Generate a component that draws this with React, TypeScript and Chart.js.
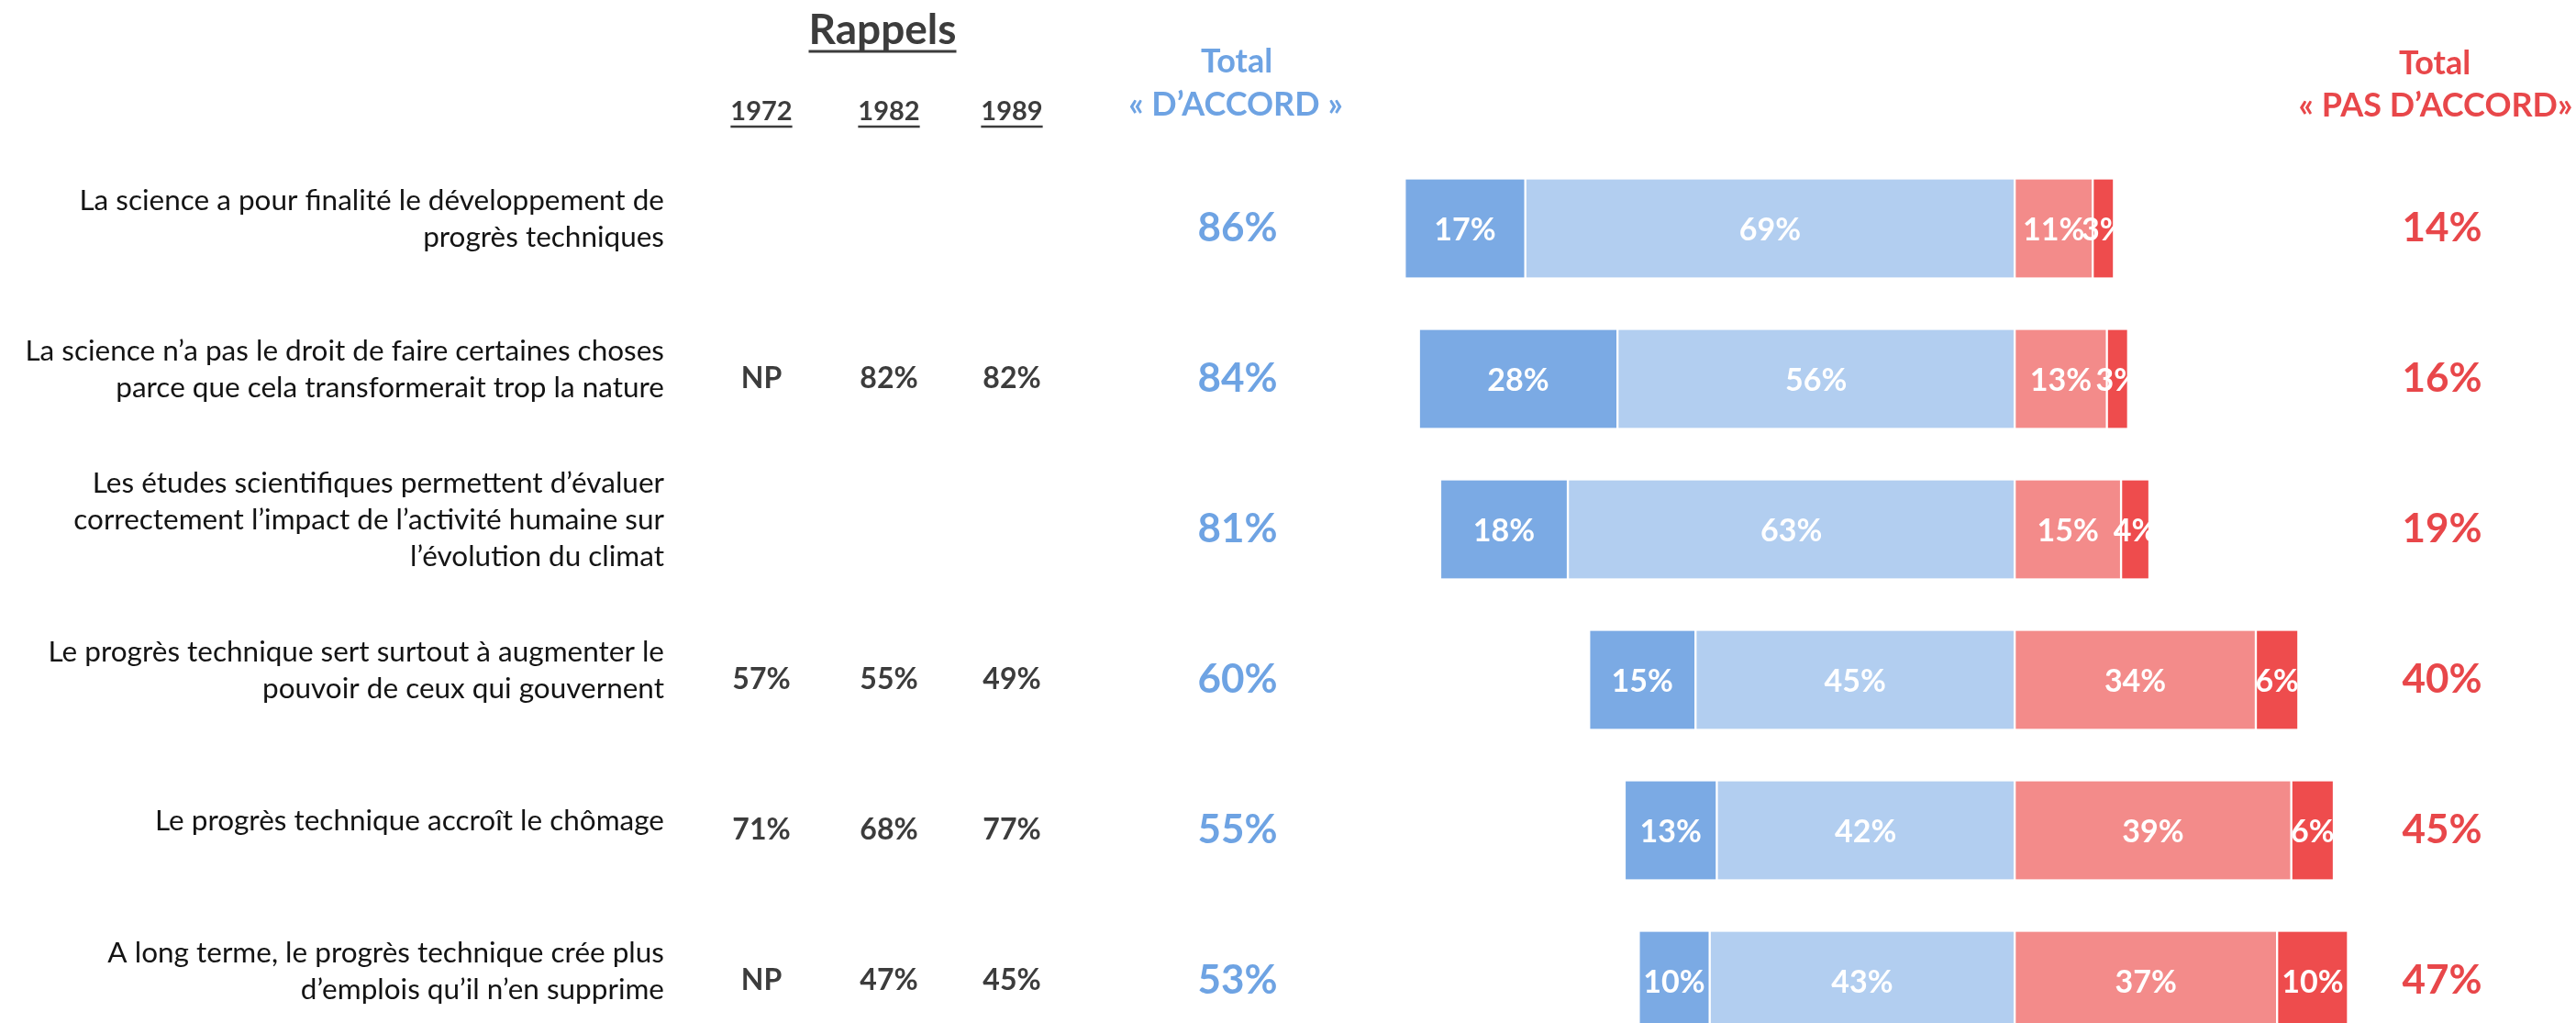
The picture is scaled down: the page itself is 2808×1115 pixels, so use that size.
import React, { useEffect, useRef } from "react";
import { Chart, registerables } from "chart.js";

Chart.register(...registerables);

// ---------- DATA ----------
const statements: string[][] = [
  ["La science a pour finalité le développement de", "progrès techniques"],
  ["La science n’a pas le droit de faire certaines choses", "parce que cela transformerait trop la nature"],
  ["Les études scientifiques permettent d’évaluer", "correctement l’impact de l’activité humaine sur", "l’évolution du climat"],
  ["Le progrès technique sert surtout à augmenter le", "pouvoir de ceux qui gouvernent"],
  ["Le progrès technique accroît le chômage"],
  ["A long terme, le progrès technique crée plus", "d’emplois qu’il n’en supprime"],
];
const toutAFaitDAccord = [17, 28, 18, 15, 13, 10];
const plutotDAccord = [69, 56, 63, 45, 42, 43];
const plutotPasDAccord = [11, 13, 15, 34, 39, 37];
const pasDuToutDAccord = [3, 3, 4, 6, 6, 10];
const totalDAccord = [86, 84, 81, 60, 55, 53];
const totalPasDAccord = [14, 16, 19, 40, 45, 47];
const rappelYears = ["1972", "1982", "1989"];
const rappel1972 = ["", "NP", "", "57%", "71%", "NP"];
const rappel1982 = ["", "82%", "", "55%", "68%", "47%"];
const rappel1989 = ["", "82%", "", "49%", "77%", "45%"];

// ---------- STYLE ----------
const FONT = "Lato, 'Open Sans', sans-serif";
const BLUE_DARK = "#7BAAE4";
const BLUE_LIGHT = "#B2CEF0";
const RED_LIGHT = "#F38B8A";
const RED_DARK = "#EE4C4D";
const BLUE_TEXT = "#6EA3E3";
const RED_TEXT = "#E8474A";
const GREY_TEXT = "#3C3C3C";

const rappelX = [830, 969, 1103];
const LABEL_RIGHT = 724;
const BLUE_X = 1349;
const RED_X = 2662;

const textPlugin = {
  id: "textPlugin",
  afterDatasetsDraw(chart: any) {
    const ctx = chart.ctx;
    ctx.save();
    ctx.fillStyle = "#ffffff";
    ctx.font = `bold 34px ${FONT}`;
    ctx.textAlign = "center";
    ctx.textBaseline = "middle";
    chart.data.datasets.forEach((ds: any, di: number) => {
      const meta = chart.getDatasetMeta(di);
      meta.data.forEach((el: any, i: number) => {
        const v = ds.data[i];
        const p = el.getProps(["x", "y", "base"], true);
        ctx.fillText(`${Math.abs(v)}%`, (p.x + p.base) / 2, p.y + 2);
      });
    });
    ctx.restore();
  },
  afterDraw(chart: any) {
    const ctx = chart.ctx;
    const yScale = chart.scales.y;
    ctx.save();
    ctx.textAlign = "center";

    const underline = (text: string, cx: number, y: number, lw: number) => {
      const w = ctx.measureText(text).width;
      ctx.beginPath();
      ctx.lineWidth = lw;
      ctx.strokeStyle = ctx.fillStyle;
      ctx.moveTo(cx - w / 2, y);
      ctx.lineTo(cx + w / 2, y);
      ctx.stroke();
    };

    // Rappels header
    ctx.fillStyle = GREY_TEXT;
    ctx.textBaseline = "alphabetic";
    ctx.font = `bold 46px ${FONT}`;
    ctx.fillText("Rappels", 962, 48);
    underline("Rappels", 962, 56, 3);

    ctx.font = `bold 29px ${FONT}`;
    rappelYears.forEach((yr, k) => {
      ctx.fillText(yr, rappelX[k], 131);
      underline(yr, rappelX[k], 138, 2.5);
    });

    // Totals headers
    ctx.textBaseline = "middle";
    ctx.font = `bold 36px ${FONT}`;
    ctx.fillStyle = BLUE_TEXT;
    ctx.fillText("Total", 1348, 67);
    ctx.fillText("« D’ACCORD »", 1347, 114);
    ctx.fillStyle = RED_TEXT;
    ctx.fillText("Total", 2654, 69);
    ctx.fillText("« PAS D’ACCORD»", 2655, 115);

    const cols = [rappel1972, rappel1982, rappel1989];
    statements.forEach((lines, i) => {
      const cy = yScale.getPixelForValue(i);
      // statement label
      ctx.fillStyle = "#141414";
      ctx.font = `31.5px ${FONT}`;
      ctx.textAlign = "right";
      const lh = 40;
      const start = cy - 10 - ((lines.length - 1) * lh) / 2;
      lines.forEach((ln, j) => ctx.fillText(ln, LABEL_RIGHT, start + j * lh));

      ctx.textAlign = "center";
      ctx.fillStyle = GREY_TEXT;
      ctx.font = `bold 32px ${FONT}`;
      cols.forEach((col, k) => {
        if (col[i]) ctx.fillText(col[i], rappelX[k], cy);
      });

      ctx.font = `bold 44px ${FONT}`;
      ctx.fillStyle = BLUE_TEXT;
      ctx.fillText(`${totalDAccord[i]}%`, BLUE_X, cy);
      ctx.fillStyle = RED_TEXT;
      ctx.fillText(`${totalPasDAccord[i]}%`, RED_X, cy);
    });
    ctx.restore();
  },
};

export default function App() {
  const ref = useRef<HTMLCanvasElement | null>(null);

  useEffect(() => {
    document.body.style.margin = "0";
    document.body.style.overflow = "hidden";
    const canvas = ref.current;
    if (!canvas) return;
    const common = {
      borderColor: "#ffffff",
      borderWidth: { left: 1.5, right: 1.5, top: 0, bottom: 0 },
      borderSkipped: false,
      barThickness: 107,
      clip: false,
    };
    const chart = new Chart(canvas, {
      type: "bar",
      data: {
        labels: statements.map((s) => s.join(" ")),
        datasets: [
          { label: "Plutôt d’accord", data: plutotDAccord.map((v) => -v), backgroundColor: BLUE_LIGHT, ...common },
          { label: "Tout à fait d’accord", data: toutAFaitDAccord.map((v) => -v), backgroundColor: BLUE_DARK, ...common },
          { label: "Plutôt pas d’accord", data: plutotPasDAccord, backgroundColor: RED_LIGHT, ...common },
          { label: "Pas du tout d’accord", data: pasDuToutDAccord, backgroundColor: RED_DARK, ...common },
        ] as any,
      },
      options: {
        indexAxis: "y",
        animation: false,
        responsive: false,
        devicePixelRatio: 1,
        layout: { padding: { left: 1423, right: 148, top: 249, bottom: 46 } },
        plugins: { legend: { display: false }, tooltip: { enabled: false } },
        scales: {
          x: { type: "linear", min: -100, max: 60, stacked: true, display: false },
          y: { type: "category", stacked: true, offset: false, display: false },
        },
      } as any,
      plugins: [textPlugin],
    });
    return () => chart.destroy();
  }, []);

  return (
    <canvas
      ref={ref}
      width={2808}
      height={1115}
      style={{ display: "block", width: "2808px", height: "1115px" }}
    />
  );
}
